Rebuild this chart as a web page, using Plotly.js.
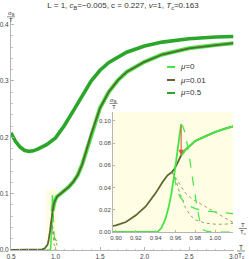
<!DOCTYPE html>
<html><head><meta charset="utf-8">
<script src="https://cdn.plot.ly/plotly-3.0.1.min.js"></script>
<style>html,body{margin:0;padding:0;background:#fff}#chart{width:249px;height:259px}</style>
</head><body><div id="chart"></div>
<script>
// ---------- data ----------
const seriesNames = ['<i>μ</i>=0', '<i>μ</i>=0.01', '<i>μ</i>=0.5'];
const seriesColors = ['#44e444', '#5b6632', '#2aa62a'];
const unstableOlive = '#8f8f5e';

// μ = 0.5
const mu05T = [0.5, 0.55, 0.6, 0.65, 0.7, 0.75, 0.8, 0.9, 1.0, 1.1, 1.2, 1.3, 1.4, 1.5, 1.6, 1.8, 2.0, 2.2, 2.5, 2.8, 3.0];
const mu05V = [0.208, 0.193, 0.183, 0.177, 0.175, 0.176, 0.179, 0.187, 0.199, 0.221, 0.247, 0.275, 0.300, 0.319, 0.333, 0.351, 0.362, 0.369, 0.375, 0.378, 0.379];

// μ = 0 : normal branch and steep rise (solid)
const mu0RiseT = [0.5, 0.90, 0.935, 0.942, 0.946, 0.950, 0.953, 0.956, 0.9585, 0.961, 0.963, 0.9648, 0.9657];
const mu0RiseV = [0, 0, 0, 0, 0.004, 0.012, 0.022, 0.035, 0.050, 0.066, 0.080, 0.091, 0.097];
// stable upper branch (μ = 0 and μ = 0.01 coincide)
const branchT = [0.9657, 0.97, 0.975, 0.98, 0.99, 1.00, 1.01, 1.018, 1.05, 1.1, 1.15, 1.2, 1.25, 1.3, 1.35, 1.4, 1.5, 1.6, 1.7, 1.8, 2.0, 2.2, 2.5, 2.8, 3.0];
const branchV = [0.069, 0.074, 0.078, 0.082, 0.086, 0.090, 0.093, 0.095, 0.099, 0.105, 0.112, 0.121, 0.133, 0.152, 0.178, 0.205, 0.252, 0.281, 0.301, 0.316, 0.334, 0.347, 0.358, 0.364, 0.367];
// μ = 0 unstable branches (dashed)
const mu0DashAT = [0.9657, 0.9675, 0.970, 0.972, 0.974, 0.976, 0.978, 0.980, 0.982, 0.984, 0.986, 0.988, 0.992, 1.0, 1.018];
const mu0DashAV = [0.097, 0.095, 0.088, 0.079, 0.068, 0.055, 0.043, 0.031, 0.021, 0.012, 0.005, 0.002, 0.0005, 0, 0];
const mu0DashBT = [0.9585, 0.960, 0.962, 0.965, 0.970, 0.975, 0.980, 0.990, 1.000, 1.010, 1.018];
const mu0DashBV = [0.050, 0.043, 0.037, 0.031, 0.026, 0.023, 0.021, 0.019, 0.018, 0.017, 0.0165];

// μ = 0.01 (solid)
const mu001T = [0.5, 0.7, 0.8, 0.85, 0.88, 0.90, 0.91, 0.92, 0.93, 0.94, 0.947, 0.952, 0.9565, 0.959, 0.962, 0.9645, 0.9657];
const mu001V = [0, 0, 0.0003, 0.001, 0.003, 0.006, 0.009, 0.015, 0.023, 0.035, 0.045, 0.051, 0.054, 0.057, 0.062, 0.067, 0.069];
// μ = 0.01 unstable loop (dotted)
const mu001DotAT = [0.9565, 0.962, 0.966, 0.970, 0.975, 0.980, 0.990, 1.000, 1.010, 1.016, 1.019];
const mu001DotAV = [0.054, 0.046, 0.040, 0.035, 0.031, 0.028, 0.023, 0.018, 0.013, 0.010, 0.008];
const mu001DotBT = [0.9565, 0.961, 0.964, 0.967, 0.970, 0.975, 0.980, 0.990, 1.000, 1.010, 1.016, 1.019];
const mu001DotBV = [0.054, 0.045, 0.036, 0.028, 0.022, 0.015, 0.011, 0.008, 0.007, 0.007, 0.0075, 0.008];

// jump (red arrow)
const jumpT = [0.9657];
const jumpFrom = [0.097];
const jumpTo = [0.069];

// axes
const mainXRange = [0.5, 3.0], mainYRange = [0, 0.41];
const insetXRange = [0.897, 1.018], insetYRange = [0, 0.108];
const mainXTicks = [0.5, 1.0, 1.5, 2.0, 2.5, 3.0];
const mainYTicks = [0, 0.1, 0.2, 0.3, 0.4];
const insetXTicks = [0.90, 0.92, 0.94, 0.96, 0.98, 1.00];
const insetYTicks = [0, 0.02, 0.04, 0.06, 0.08, 0.10];
const titleText = 'L = 1, <i>c</i><sub>B</sub>=−0.005, c = 0.227, <i>v</i>=1, <i>T</i><sub>c</sub>=0.163';

// ---------- build ----------
const W = 249, H = 259;
const px = v => v / W, py = v => 1 - v / H;
const FONT = 'Liberation Sans, Arial, sans-serif';
const [C0, C1, C5] = seriesColors;

function ln(x, y, color, width, dash, xa, ya) {
  return {type: 'scatter', mode: 'lines', x: x, y: y, xaxis: xa, yaxis: ya,
    line: {color: color, width: width, dash: dash || 'solid'}, hoverinfo: 'skip', showlegend: false};
}
const olive001T = mu001T.concat(branchT.slice(1));
const olive001V = mu001V.concat(branchV.slice(1));

const traces = [
  // main plot
  ln(mu05T, mu05V, C5, 3.6, 'solid', 'x', 'y'),
  ln(branchT, branchV, C0, 4, 'solid', 'x', 'y'),
  ln(mu0RiseT, mu0RiseV, C0, 1.5, 'solid', 'x', 'y'),
  ln(mu0DashAT, mu0DashAV, C0, 1.1, 'dash', 'x', 'y'),
  ln(mu0DashBT, mu0DashBV, C0, 1.1, 'dash', 'x', 'y'),
  ln(mu001DotAT, mu001DotAV, unstableOlive, 0.9, 'dot', 'x', 'y'),
  ln(mu001DotBT, mu001DotBV, unstableOlive, 0.9, 'dot', 'x', 'y'),
  ln(olive001T, olive001V, C1, 1.8, 'solid', 'x', 'y'),
  // inset
  ln(olive001T, olive001V, C1, 1.8, 'solid', 'x2', 'y2'),
  ln(mu001DotAT, mu001DotAV, unstableOlive, 0.9, 'dot', 'x2', 'y2'),
  ln(mu001DotBT, mu001DotBV, unstableOlive, 0.9, 'dot', 'x2', 'y2'),
  ln(mu0DashAT, mu0DashAV, C0, 1.2, 'dash', 'x2', 'y2'),
  ln(mu0DashBT, mu0DashBV, C0, 1.2, 'dash', 'x2', 'y2'),
  ln(mu0RiseT, mu0RiseV, C0, 1.8, 'solid', 'x2', 'y2'),
  ln(branchT, branchV, C0, 2, 'solid', 'x2', 'y2')
];

const axisCommon = {showline: true, linecolor: '#b5b5b5', linewidth: 1, showgrid: false, zeroline: false,
  ticks: 'inside', tickcolor: '#b5b5b5', ticklen: 3, tickfont: {size: 6.5, color: '#444', family: FONT}, fixedrange: true};

const layout = {
  width: W, height: H, margin: {l: 0, r: 0, t: 0, b: 0},
  paper_bgcolor: '#fff', plot_bgcolor: 'rgba(0,0,0,0)', showlegend: false,
  font: {family: FONT},
  title: {text: titleText, font: {size: 8, color: '#333', family: FONT}, x: 0.494, xanchor: 'center', y: py(5.5), yanchor: 'middle'},
  xaxis: Object.assign({}, axisCommon, {domain: [px(11), px(233.5)], range: mainXRange, tickvals: mainXTicks, tickformat: '.1f',
    anchor: 'y', minor: {dtick: 0.1, ticklen: 1.5, ticks: 'inside', tickcolor: '#c8c8c8'}}),
  yaxis: Object.assign({}, axisCommon, {domain: [py(250), py(19)], range: mainYRange, tickvals: mainYTicks, tickformat: '.1f',
    anchor: 'x', minor: {dtick: 0.02, ticklen: 1.5, ticks: 'inside', tickcolor: '#c8c8c8'}}),
  xaxis2: Object.assign({}, axisCommon, {domain: [px(113), px(233)], range: insetXRange, tickvals: insetXTicks, tickformat: '.2f',
    anchor: 'y2', tickfont: {size: 6, color: '#444', family: FONT}, ticklen: 2}),
  yaxis2: Object.assign({}, axisCommon, {domain: [py(232), py(112)], range: insetYRange, tickvals: insetYTicks, tickformat: '.2f',
    anchor: 'x2', tickfont: {size: 6, color: '#444', family: FONT}, ticklen: 2}),
  shapes: [
    {type: 'rect', xref: 'x2 domain', yref: 'y2 domain', x0: 0, x1: 1, y0: 0, y1: 1, fillcolor: '#fffde3', line: {width: 0}, layer: 'below'},
    {type: 'rect', xref: 'x', yref: 'y', x0: insetXRange[0], x1: insetXRange[1], y0: insetYRange[0], y1: insetYRange[1], fillcolor: '#fffde3', line: {width: 0}, layer: 'below'},
    {type: 'line', xref: 'paper', yref: 'paper', x0: px(7), x1: px(15), y0: py(16.8), y1: py(16.8), line: {color: '#444', width: 0.6}},
    {type: 'line', xref: 'paper', yref: 'paper', x0: px(109.5), x1: px(117.5), y0: py(103.5), y1: py(103.5), line: {color: '#444', width: 0.6}},
    {type: 'line', xref: 'paper', yref: 'paper', x0: px(237), x1: px(245), y0: py(251), y1: py(251), line: {color: '#444', width: 0.6}},
    {type: 'line', xref: 'paper', yref: 'paper', x0: px(239), x1: px(247), y0: py(228.5), y1: py(228.5), line: {color: '#444', width: 0.6}},
    {type: 'line', xref: 'paper', yref: 'paper', x0: px(167), x1: px(175), y0: py(67), y1: py(67), line: {color: C0, width: 2}},
    {type: 'line', xref: 'paper', yref: 'paper', x0: px(167), x1: px(175), y0: py(80), y1: py(80), line: {color: C1, width: 2}},
    {type: 'line', xref: 'paper', yref: 'paper', x0: px(167), x1: px(175), y0: py(93), y1: py(93), line: {color: C5, width: 2}}
  ],
  annotations: []
};

function txt(x, y, text, size, anchor) {
  layout.annotations.push({xref: 'paper', yref: 'paper', x: px(x), y: py(y), text: text, showarrow: false,
    xanchor: anchor || 'center', yanchor: 'middle', font: {size: size, color: '#333', family: FONT}});
}
txt(11, 13.5, '<i>σ</i><sub>B</sub>', 6);
txt(11, 20.5, 'T', 6);
txt(113.5, 100.2, '<i>σ</i><sub>B</sub>', 6);
txt(113.5, 107.2, 'T', 6);
txt(241, 247, 'T', 6.5);
txt(241, 255.5, 'T<sub>c</sub>', 6.5);
txt(243, 224.8, 'T', 6);
txt(243, 232.5, 'T<sub>c</sub>', 6);
[67, 80, 93].forEach((y, i) => txt(178, y, seriesNames[i], 8, 'left'));

layout.annotations.push({xref: 'x2', yref: 'y2', axref: 'x2', ayref: 'y2', x: jumpT[0], y: jumpTo[0], ax: jumpT[0], ay: jumpFrom[0],
  text: '', showarrow: true, arrowhead: 2, arrowsize: 1, arrowwidth: 1.1, arrowcolor: '#e2553a'});

Plotly.newPlot('chart', traces, layout, {staticPlot: true, displayModeBar: false});
</script></body></html>
